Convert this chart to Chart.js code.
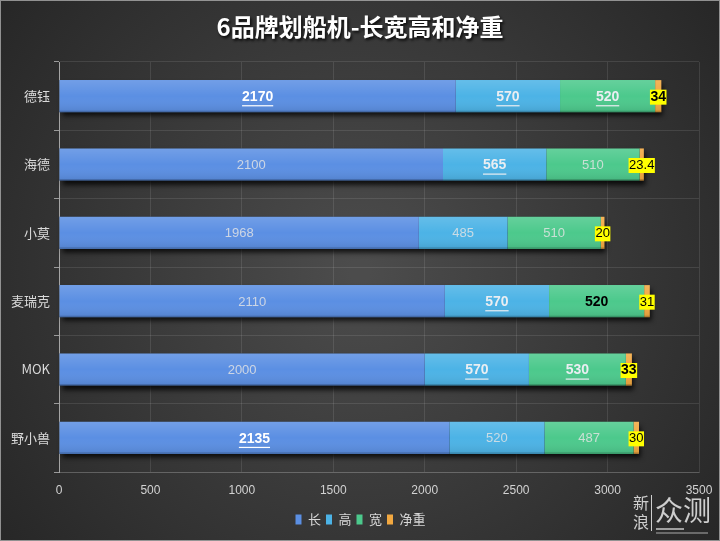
<!DOCTYPE html>
<html><head><meta charset="utf-8">
<script src="https://cdn.jsdelivr.net/npm/chart.js@4.4.1/dist/chart.umd.min.js"></script>
<style>html,body{margin:0;padding:0;background:#333;}canvas{display:block}</style>
</head><body>
<canvas id="c" width="720" height="541"></canvas>
<script>
const chartTitle = '6品牌划船机-长宽高和净重';
const categories = ['德钰','海德','小莫','麦瑞克','MOK','野小兽'];
const seriesNames = ['长','高','宽','净重'];
const lengthVals = [2170,2100,1968,2110,2000,2135];
const heightVals = [570,565,485,570,570,520];
const widthVals  = [520,510,510,520,530,487];
const weightVals = [34,23.4,20,31,33,30];
const xTicks = [0,500,1000,1500,2000,2500,3000,3500];
// label emphasis per series: b = bold underlined, n = normal, k = bold black
const labelStyles = [
  ['b','n','n','n','n','b'],
  ['b','b','n','b','b','n'],
  ['b','n','n','k','b','n'],
  ['b','n','n','n','b','n']
];
const colors = ['#5b8fe3','#4cb3e6','#4cc98c','#f2a840'];

const FONT = '"Liberation Sans", Arial, sans-serif';
const CJK = '"Noto Sans CJK SC", "Liberation Sans", sans-serif';

const decorPlugin = {
  id: 'decor',
  afterLayout(chart) {
    const lg = chart.legend;
    if (lg) { lg.left += 11; lg.right += 11; }
  },
  beforeDraw(chart) {
    const {ctx, width, height} = chart;
    ctx.save();
    const g = ctx.createRadialGradient(width*0.5, height*0.5, 10, width*0.5, height*0.5, width*0.62);
    g.addColorStop(0, '#4c4c4c');
    g.addColorStop(1, '#272727');
    ctx.fillStyle = g;
    ctx.fillRect(0, 0, width, height);
    ctx.strokeStyle = 'rgba(190,190,190,0.7)';
    ctx.lineWidth = 1;
    ctx.strokeRect(0.5, 0.5, width-1, height-1);
    ctx.font = 'bold 24px ' + CJK;
    ctx.textAlign = 'center';
    ctx.textBaseline = 'middle';
    ctx.shadowColor = 'rgba(0,0,0,0.85)';
    ctx.shadowBlur = 3; ctx.shadowOffsetX = 1.5; ctx.shadowOffsetY = 2;
    ctx.fillStyle = '#ffffff';
    ctx.fillText(chartTitle, width/2, 27);
    ctx.restore();
  },
  beforeDatasetsDraw(chart) {
    const ctx = chart.ctx;
    const n = chart.data.datasets.length;
    const first = chart.getDatasetMeta(0).data;
    const last = chart.getDatasetMeta(n-1).data;
    ctx.save();
    ctx.shadowColor = 'rgba(0,0,0,0.8)';
    ctx.shadowBlur = 5; ctx.shadowOffsetY = 4; ctx.shadowOffsetX = 2;
    ctx.fillStyle = '#222';
    first.forEach((b, i) => {
      const e = last[i];
      ctx.fillRect(b.base, b.y - b.height/2, e.x - b.base, b.height);
    });
    ctx.restore();
  },
  afterDatasetsDraw(chart) {
    const ctx = chart.ctx;
    ctx.save();
    chart.data.datasets.forEach((ds, d) => {
      chart.getDatasetMeta(d).data.forEach(b => {
        const top = b.y - b.height/2, bot = b.y + b.height/2;
        const g = ctx.createLinearGradient(0, top, 0, bot);
        g.addColorStop(0, 'rgba(255,255,255,0.14)');
        g.addColorStop(0.5, 'rgba(255,255,255,0.0)');
        g.addColorStop(1, 'rgba(0,0,0,0.10)');
        ctx.fillStyle = g;
        ctx.fillRect(b.base, top, b.x - b.base, b.height);
        ctx.fillStyle = 'rgba(0,0,0,0.18)';
        ctx.fillRect(b.base, bot - 1.5, b.x - b.base, 1.5);
      });
    });
    ctx.textAlign = 'center';
    ctx.textBaseline = 'middle';
    chart.data.datasets.forEach((ds, d) => {
      chart.getDatasetMeta(d).data.forEach((b, i) => {
        const txt = String(ds.data[i]);
        const st = labelStyles[d][i];
        const cx = (b.x + b.base)/2, cy = b.y + 1;
        if (d === 3) {
          ctx.font = (st === 'b' ? 'bold 14px ' : '13px ') + FONT;
          const w = ctx.measureText(txt).width + 1;
          ctx.fillStyle = '#ffff00';
          ctx.fillRect(cx - w/2, cy - 7.5, w, 15);
          ctx.fillStyle = '#000';
          ctx.fillText(txt, cx, cy);
          return;
        }
        if (st === 'n') {
          ctx.font = '13px ' + FONT;
          ctx.fillStyle = 'rgba(228,228,228,0.82)';
          ctx.fillText(txt, cx, cy);
        } else if (st === 'k') {
          ctx.font = 'bold 14px ' + FONT;
          ctx.fillStyle = '#000';
          ctx.fillText(txt, cx, cy);
        } else {
          ctx.font = 'bold 14px ' + FONT;
          ctx.fillStyle = d === 0 ? '#ffffff' : '#eaeef2';
          ctx.fillText(txt, cx, cy);
          const w = ctx.measureText(txt).width;
          ctx.fillRect(cx - w/2, cy + 8, w, 1.2);
        }
      });
    });
    ctx.restore();
  },
  afterDraw(chart) {
    const ctx = chart.ctx;
    ctx.save();
    ctx.fillStyle = 'rgba(235,235,235,0.85)';
    ctx.textAlign = 'center';
    ctx.textBaseline = 'middle';
    ctx.font = '16px ' + CJK;
    ctx.fillText('新', 641, 503);
    ctx.fillText('浪', 641, 522);
    ctx.fillRect(651, 495, 1, 36);
    ctx.font = '28px ' + CJK;
    ctx.fillText('众测', 683, 510);
    ctx.fillStyle = 'rgba(210,210,210,0.7)';
    ctx.fillRect(656, 528, 28, 2);
    ctx.fillStyle = 'rgba(150,150,150,0.6)';
    ctx.fillRect(656, 532, 52, 2);
    ctx.restore();
  }
};

new Chart(document.getElementById('c'), {
  type: 'bar',
  data: {
    labels: categories,
    datasets: [lengthVals, heightVals, widthVals, weightVals].map((vals, k) => ({
      label: seriesNames[k],
      data: vals,
      backgroundColor: colors[k],
      borderWidth: 0,
      barPercentage: 0.47,
      categoryPercentage: 1.0
    }))
  },
  options: {
    indexAxis: 'y',
    responsive: false,
    animation: false,
    devicePixelRatio: 1,
    layout: { padding: { left: 0, right: 21, top: 62, bottom: 5 } },
    scales: {
      x: {
        stacked: true,
        min: 0, max: 3500,
        afterBuildTicks(scale) { scale.ticks = xTicks.map(v => ({value: v})); },
        afterFit(scale) { scale.height = 36; scale.paddingRight = 0; scale.paddingLeft = 0; },
        grid: { color: 'rgba(255,255,255,0.10)', drawTicks: false },
        border: { color: 'rgba(255,255,255,0.15)' },
        ticks: { color: '#d2d2d2', font: { family: FONT, size: 12 }, padding: 11, maxRotation: 0,
                 callback: v => String(v) }
      },
      y: {
        stacked: true,
        afterFit(scale) { scale.width = 59; },
        grid: { color: 'rgba(255,255,255,0.10)', offset: true, tickLength: 5, tickColor: '#9a9a9a' },
        border: { color: '#a5a5a5', width: 1 },
        ticks: { color: '#dadada', font: { family: CJK, size: 13 }, padding: 4 }
      }
    },
    plugins: {
      title: { display: false },
      tooltip: { enabled: false },
      legend: {
        position: 'bottom',
        labels: { color: '#d8d8d8', font: { family: CJK, size: 13 }, boxWidth: 6, boxHeight: 10, padding: 5 }
      }
    }
  },
  plugins: [decorPlugin]
});
</script>
</body></html>
